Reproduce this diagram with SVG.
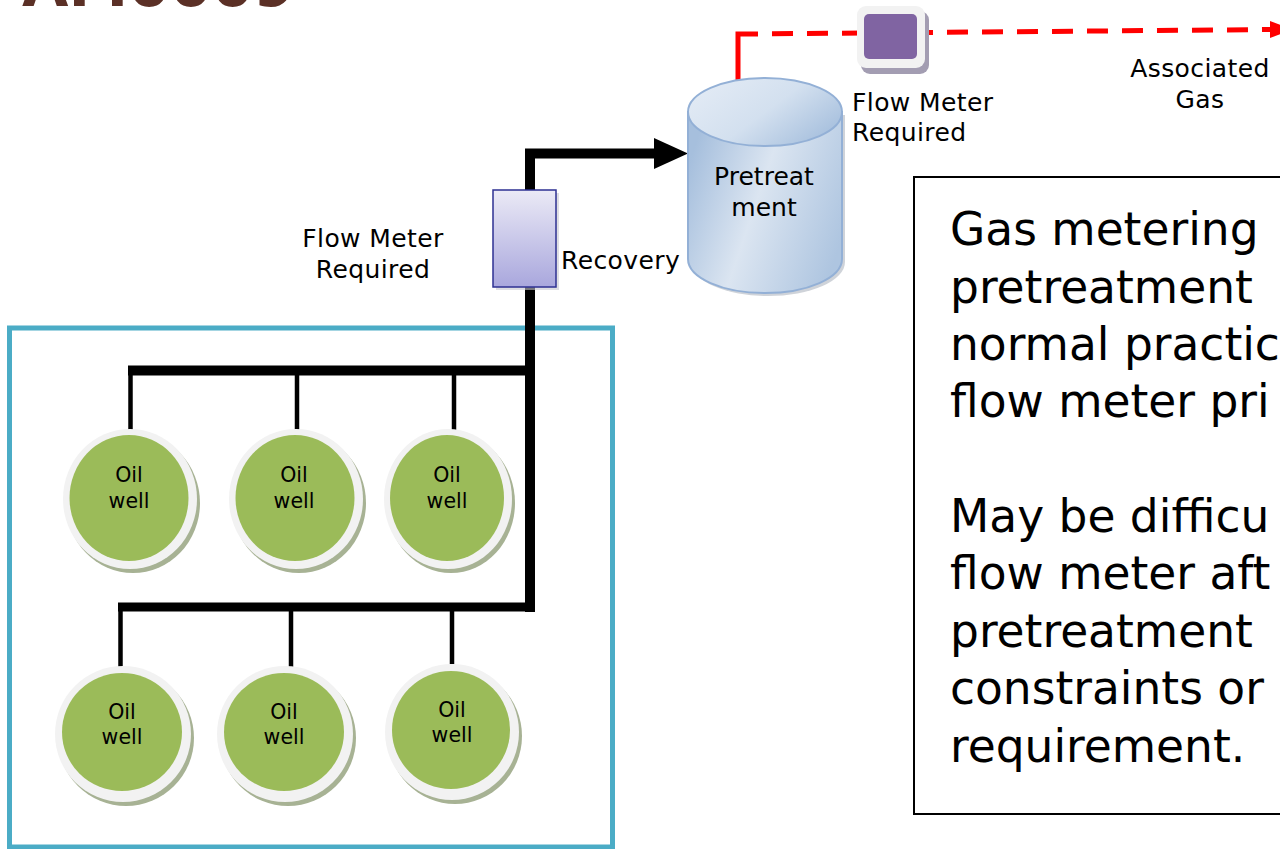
<svg xmlns="http://www.w3.org/2000/svg" width="1280" height="849" viewBox="0 0 1280 849">
<defs>
<linearGradient id="gMeter" x1="0" y1="0" x2="0" y2="1"><stop offset="0" stop-color="#ebeaf6"/><stop offset="1" stop-color="#a9a7dd"/></linearGradient>
<linearGradient id="gCyl" x1="0" y1="0.3" x2="1" y2="0.7"><stop offset="0" stop-color="#a6bfdd"/><stop offset="0.45" stop-color="#dbe5f1"/><stop offset="1" stop-color="#aec5e0"/></linearGradient>
<linearGradient id="gTop" x1="0" y1="0.2" x2="1" y2="0.8"><stop offset="0" stop-color="#e3ebf5"/><stop offset="0.5" stop-color="#d3e0ef"/><stop offset="1" stop-color="#a3bddc"/></linearGradient>
</defs>
<style>
text{font-family:"DejaVu Sans","Liberation Sans",sans-serif;fill:#000}
.lbl{font-size:25px;letter-spacing:0.4px}
.well{font-size:20.5px;text-anchor:middle}
.big{font-size:45.5px}
.pipe{stroke:#000;fill:none}
.ring{fill:#f2f2f2}
.shd{fill:#a7b294}
.green{fill:#9bbb59}
</style>

<text x="22" y="6" style="font-size:60px;font-weight:bold;fill:#5b3026">AM0009</text>

<rect id="field" x="9.5" y="328" width="603" height="519" fill="none" stroke="#4bacc6" stroke-width="5"/>

<g id="connectors">
<path class="pipe" d="M530,612 V153.5 H655" stroke-width="10" stroke-linejoin="miter"/>
<polygon points="654,138 688,153.5 654,169" fill="#000"/>
<line class="pipe" x1="128" y1="370.5" x2="530" y2="370.5" stroke-width="10"/>
<line class="pipe" x1="118" y1="607" x2="530" y2="607" stroke-width="9"/>
<g class="pipe" stroke-width="4.5">
<line x1="130.5" y1="370" x2="130.5" y2="430"/>
<line x1="297" y1="370" x2="297" y2="430"/>
<line x1="454" y1="370" x2="454" y2="430"/>
<line x1="120.5" y1="607" x2="120.5" y2="667"/>
<line x1="291" y1="607" x2="291" y2="667"/>
<line x1="452" y1="607" x2="452" y2="664"/>
</g>
<path d="M738,80 V34 H758" fill="none" stroke="#ff0000" stroke-width="5"/>
<path d="M772,33.8 L1272,29.5" fill="none" stroke="#ff0000" stroke-width="5" stroke-dasharray="21 14"/>
<polygon points="1270,21 1292,29.5 1270,38" fill="#ff0000"/>
</g>

<g id="recovery-meter">
<rect x="496" y="193" width="63" height="97" fill="#c8c8d0" opacity="0.6"/>
<rect x="493" y="190" width="63" height="97" fill="url(#gMeter)" stroke="#2e3192" stroke-width="1.5"/>
</g>
<g id="label-flowmeter-left">
<text class="lbl" x="373" y="247" text-anchor="middle">Flow Meter</text>
<text class="lbl" x="373" y="278" text-anchor="middle">Required</text>
</g>
<text id="label-recovery" class="lbl" x="561" y="269">Recovery</text>

<g id="pretreatment">
<path d="M691,115 V262 A77,34 0 0 0 845,262 V115 Z" fill="#a0a7b3" opacity="0.5"/>
<path d="M688,112 V259 A77,34 0 0 0 842,259 V112 Z" fill="url(#gCyl)" stroke="#93b0d6" stroke-width="2"/>
<ellipse cx="765" cy="112" rx="77" ry="34" fill="url(#gTop)" stroke="#93b0d6" stroke-width="2"/>
<text x="764" y="185" style="font-size:25px" text-anchor="middle">Pretreat</text>
<text x="764" y="216" style="font-size:25px" text-anchor="middle">ment</text>
</g>

<g id="gas-meter">
<rect x="861" y="11" width="68" height="63" rx="9" fill="#a39db2"/>
<rect x="857" y="6" width="68" height="62" rx="9" fill="#f2f2f2"/>
<rect x="864" y="14" width="53" height="45" rx="5" fill="#8064a2"/>
</g>
<g id="label-flowmeter-top">
<text class="lbl" x="852" y="111">Flow Meter</text>
<text class="lbl" x="852" y="141">Required</text>
</g>
<g id="label-gas">
<text class="lbl" x="1200" y="77" text-anchor="middle">Associated</text>
<text class="lbl" x="1200" y="108" text-anchor="middle">Gas</text>
</g>

<g id="well1"><ellipse class="shd" cx="133" cy="503" rx="67" ry="70"/><ellipse class="ring" cx="130" cy="499" rx="67" ry="70"/><ellipse class="green" cx="129" cy="498" rx="59.5" ry="63"/><text class="well" x="129" y="482">Oil</text><text class="well" x="129" y="508">well</text></g>
<g id="well2"><ellipse class="shd" cx="299" cy="503" rx="67" ry="70"/><ellipse class="ring" cx="296" cy="499" rx="67" ry="70"/><ellipse class="green" cx="295" cy="498" rx="59.5" ry="63"/><text class="well" x="294" y="482">Oil</text><text class="well" x="294" y="508">well</text></g>
<g id="well3"><ellipse class="shd" cx="451" cy="503" rx="64" ry="70"/><ellipse class="ring" cx="448" cy="499" rx="64" ry="70"/><ellipse class="green" cx="447" cy="498" rx="57" ry="63"/><text class="well" x="447" y="482">Oil</text><text class="well" x="447" y="508">well</text></g>
<g id="well4"><ellipse class="shd" cx="126" cy="738" rx="68" ry="68"/><ellipse class="ring" cx="123" cy="734" rx="68" ry="68"/><ellipse class="green" cx="122" cy="732" rx="60" ry="59"/><text class="well" x="122" y="719">Oil</text><text class="well" x="122" y="744">well</text></g>
<g id="well5"><ellipse class="shd" cx="288" cy="738" rx="68" ry="68"/><ellipse class="ring" cx="285" cy="734" rx="68" ry="68"/><ellipse class="green" cx="284" cy="732" rx="60" ry="59"/><text class="well" x="284" y="719">Oil</text><text class="well" x="284" y="744">well</text></g>
<g id="well6"><ellipse class="shd" cx="455" cy="736" rx="67" ry="68"/><ellipse class="ring" cx="452" cy="732" rx="67" ry="68"/><ellipse class="green" cx="451" cy="730" rx="59" ry="59"/><text class="well" x="452" y="717">Oil</text><text class="well" x="452" y="742">well</text></g>

<g id="note">
<rect x="914" y="177" width="400" height="637" fill="#fff" stroke="#000" stroke-width="2"/>
<text class="big" x="950" y="245">Gas metering</text>
<text class="big" x="950" y="303">pretreatment</text>
<text class="big" x="950" y="360">normal practic</text>
<text class="big" x="950" y="417">flow meter pri</text>
<text class="big" x="950" y="532">May be difficu</text>
<text class="big" x="950" y="589">flow meter aft</text>
<text class="big" x="950" y="647">pretreatment</text>
<text class="big" x="950" y="704">constraints or</text>
<text class="big" x="950" y="762">requirement.</text>
</g>
</svg>
